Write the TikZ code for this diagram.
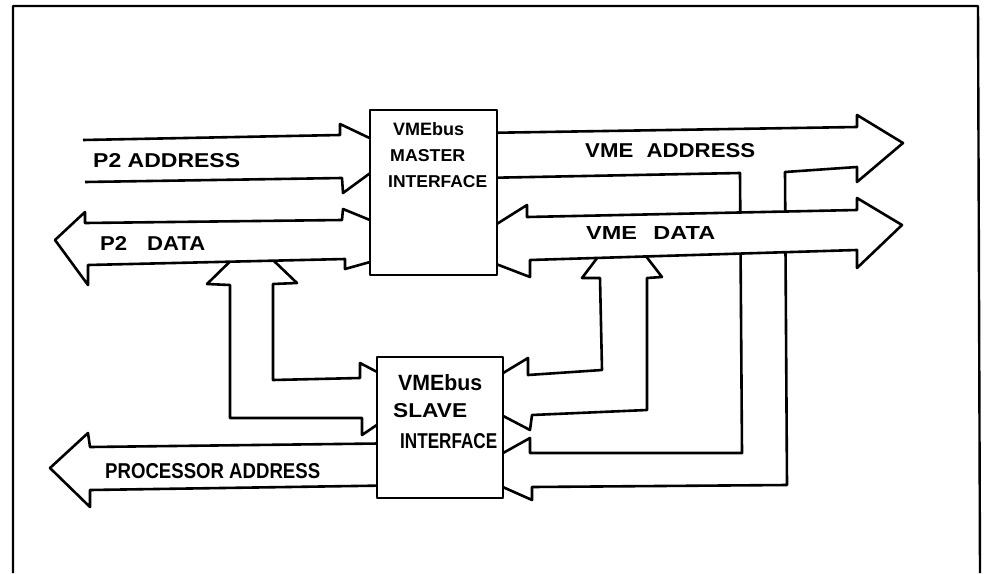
\documentclass[tikz,border=0pt]{standalone}
\usepackage{fontspec}
\setmainfont{Liberation Sans}
\usepackage{graphicx}
\newcommand{\hw}[3]{\resizebox{#1pt}{#2pt}{\bfseries #3}}
\begin{document}
\begin{tikzpicture}[x=1pt,y=-1pt, line join=round,
  bus/.style={draw=black, fill=white, line width=2.6pt},
  box/.style={draw=black, fill=white, line width=2.6pt, rectangle, inner sep=0pt},
  lbl/.style={anchor=base west, inner sep=0pt}]
\useasboundingbox (0,0) rectangle (985,573);
% frame
\draw[line width=2.4pt] (13,573) -- (13,6) -- (978,6) -- (980,573);
% VME ADDRESS bus with branch down to the slave
\draw[bus] (480,133) -- (857,127) -- (857,115) -- (903,143) -- (857,182) -- (857,167) -- (785,172) -- (787,485) -- (532,487) -- (532,500) -- (469,472) -- (530,438) -- (530,453) -- (742,453) -- (740,173) -- (480,178) -- cycle;
% VME DATA branch to the slave
\draw[bus] (622,225) -- (662,277) -- (647,278) -- (647,410) -- (532,415) -- (530,430) -- (465,396) -- (528,358) -- (528,375) -- (602,370) -- (600,278) -- (582,278) -- cycle;
% VME DATA
\draw[bus] (457,249) -- (527,205) -- (527,217) -- (857,210) -- (857,198) -- (902,225) -- (857,268) -- (857,250) -- (530,260) -- (530,277) -- cycle;
% P2 ADDRESS
\draw[bus] (83,140) -- (340,135) -- (340,124) -- (399,152) -- (343,193) -- (342,178) -- (85,182);
% P2 DATA branch to the slave
\draw[bus] (252,240) -- (297,283) -- (273,284) -- (273,380) -- (360,378) -- (360,363) -- (421,395) -- (362,435) -- (362,418) -- (230,418) -- (230,285) -- (207,284) -- cycle;
% P2 DATA
\draw[bus] (55,240) -- (85,212) -- (85,223) -- (342,220) -- (343,209) -- (431,245) -- (345,269) -- (345,259) -- (88,265) -- (88,285) -- cycle;
% PROCESSOR ADDRESS
\draw[bus] (50,468) -- (88,433) -- (90,447) -- (420,443) -- (420,485) -- (90,490) -- (90,507) -- cycle;
% boxes
\node[box, minimum width=127pt, minimum height=165pt] (master) at (433.5,192.5) {};
\node[box, minimum width=126pt, minimum height=141pt] (slave) at (440,427.5) {};
% labels
\node[lbl] (lp2a) at (93,167) {\hw{147}{14}{P2 ADDRESS}};
\node[lbl] (lp2d) at (100,250) {\hw{105}{14}{P2\hspace{0.9em}DATA}};
\node[lbl] (lvmea) at (585,157) {\hw{170}{14}{VME\hspace{0.6em}ADDRESS}};
\node[lbl] (lvmed) at (586,239) {\hw{129}{13}{VME\hspace{0.7em}DATA}};
\node[lbl] (lproc) at (105,478) {\hw{215}{15}{PROCESSOR ADDRESS}};
\node[lbl] (m1) at (393,135) {\hw{71}{13}{VMEbus}};
\node[lbl] (m2) at (390,161) {\hw{75}{12}{MASTER}};
\node[lbl] (m3) at (388,187) {\hw{99}{12}{INTERFACE}};
\node[lbl] (s1) at (398,390) {\hw{84}{16}{VMEbus}};
\node[lbl] (s2) at (393,417) {\hw{74}{14}{SLAVE}};
\node[lbl] (s3) at (400,448) {\hw{97}{15}{INTERFACE}};
\end{tikzpicture}
\end{document}
